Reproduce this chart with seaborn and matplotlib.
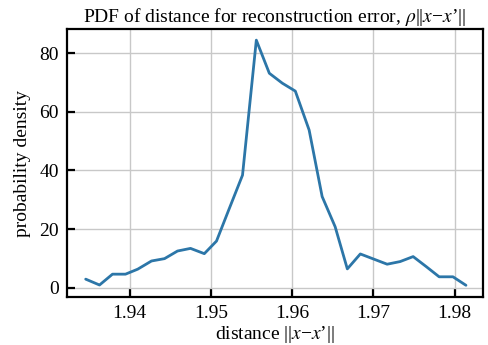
import pandas as pd
import matplotlib.pyplot as plt
import seaborn as sns

# values
distance = [1.9346, 1.9363, 1.9379, 1.9395, 1.9410, 1.9427, 1.9443, 1.9459,
            1.9475, 1.9492, 1.9507, 1.9522, 1.9539, 1.9556, 1.9572, 1.9588,
            1.9604, 1.9621, 1.9637, 1.9653, 1.9668, 1.9684, 1.9700, 1.9717,
            1.9733, 1.9749, 1.9765, 1.9781, 1.9798, 1.9814]
density = [2.9, 0.9, 4.6, 4.6, 6.3, 9.1, 9.9, 12.5, 13.4, 11.6, 15.9, 26.5,
           38.4, 84.5, 73.2, 69.8, 67.1, 53.8, 31.1, 20.8, 6.4, 11.5, 9.8,
           8.0, 8.9, 10.6, 7.2, 3.7, 3.7, 0.8]
x_ticks = [1.94, 1.95, 1.96, 1.97, 1.98]
y_ticks = [0, 20, 40, 60, 80]

df = pd.DataFrame({"distance": distance, "density": density})

sns.set_theme(style="whitegrid")
plt.rcParams["font.family"] = ["Liberation Serif", "DejaVu Serif"]
plt.rcParams["mathtext.fontset"] = "stix"

fig = plt.figure(figsize=(4.88, 3.45), dpi=100)
ax = fig.add_axes([0.1373, 0.1391, 0.8525, 0.7768])

sns.lineplot(data=df, x="distance", y="density", color="#2c76a8",
             linewidth=2, ax=ax)

ax.set_xlim(1.9323, 1.9835)
ax.set_ylim(-3.2, 88.3)
ax.set_xticks(x_ticks)
ax.set_yticks(y_ticks)
ax.set_xticklabels([f"{t:.2f}" for t in x_ticks])
ax.grid(True, color="#c8c8c8", linewidth=1)
for s in ax.spines.values():
    s.set_color("black")
    s.set_linewidth(1.6)
ax.tick_params(direction="in", length=6, width=1.6, color="black",
               labelsize=14, labelcolor="black", pad=6,
               bottom=True, left=True)

ax.set_title(r"PDF of distance for reconstruction error, $\rho$||$x$−$x$’||",
             fontsize=14, color="black", pad=5)
ax.set_xlabel(r"distance ||$x$−$x$’||", fontsize=14, color="black", labelpad=1)
ax.set_ylabel("probability density", fontsize=14, color="black", labelpad=6)

fig.savefig("out.png", dpi=100)
